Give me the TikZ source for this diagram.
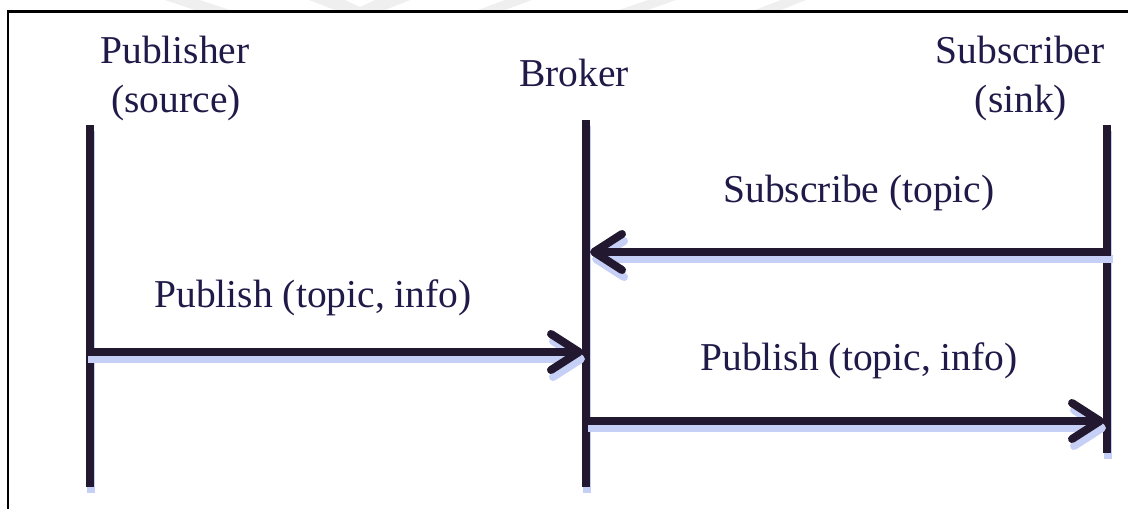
\documentclass[tikz,border=0pt]{standalone}
\usepackage{fontspec}
\setmainfont{Liberation Serif}
\usetikzlibrary{arrows.meta}
\definecolor{ink}{HTML}{221830}
\definecolor{shade}{HTML}{C6D0F6}
\definecolor{txt}{HTML}{201A48}
\definecolor{wmgray}{HTML}{EFEFEF}
\begin{document}
\begin{tikzpicture}[x=1pt,y=-1pt,
  lbl/.style={text=txt, font=\fontsize{39.5}{46}\selectfont, inner sep=0pt, anchor=base},
  lifeline/.style={line width=8pt, draw=ink},
  msg/.style={line width=8pt, draw=ink,
    -{Straight Barb[length=28pt,width=36pt,round]}},
  lifeshadow/.style={lifeline, draw=shade},
  msgshadow/.style={msg, draw=shade},
  frameline/.style={line width=2.5pt, draw=black}
]
\useasboundingbox (0,0) rectangle (1128,509);

% faint background marks along the top edge
\fill[wmgray] (165,0) -- (200,0) -- (230,10) -- (195,10) -- cycle;
\fill[wmgray] (309,0) -- (345,0) -- (360,7) -- (375,0) -- (410,0) -- (385,10) -- (335,10) -- cycle;
\fill[wmgray] (505,0) -- (532,0) -- (505,10) -- (478,10) -- cycle;
\fill[wmgray] (648,0) -- (676,0) -- (648,10) -- (619,10) -- cycle;
\fill[wmgray] (781,0) -- (806,0) -- (781,10) -- (755,10) -- cycle;

% frame
\draw[frameline] (8,509) -- (8,11.5) -- (1128,11.5);

% participants
\node[lbl] (pubname) at (175,63) {Publisher};
\node[lbl] (pubrole) at (176,112) {(source)};
\node[lbl] (broker) at (574,86) {Broker};
\node[lbl] (subname) at (1020,63) {Subscriber};
\node[lbl] (subrole) at (1021,112) {(sink)};

% lifeline end points
\coordinate (pubTop) at (90,125);
\coordinate (pubBot) at (90,487);
\coordinate (brkTop) at (586,120);
\coordinate (brkBot) at (586,487);
\coordinate (subTop) at (1107,125);
\coordinate (subBot) at (1107,453);

% message anchor points on the lifelines
\coordinate (subS) at (1111,252);
\coordinate (brkS) at (590,252);
\coordinate (pubP) at (86,352);
\coordinate (brkP) at (583,352);
\coordinate (brkF) at (586,421);
\coordinate (subF) at (1104,421);

% lifelines with their soft blue drop shadow
\begin{scope}[transform canvas={shift={(0.5pt,-6pt)}}]
  \draw[lifeshadow] (pubTop) -- (pubBot);
  \draw[lifeshadow] (brkTop) -- (brkBot);
  \draw[lifeshadow] (subTop) -- (subBot);
\end{scope}
\draw[lifeline] (pubTop) -- (pubBot);
\draw[lifeline] (brkTop) -- (brkBot);
\draw[lifeline] (subTop) -- (subBot);

% message shadows
\begin{scope}[transform canvas={shift={(2pt,-7pt)}}]
  \draw[msgshadow] (subS) -- (brkS);
  \draw[msgshadow] (pubP) -- (brkP);
  \draw[msgshadow] (brkF) -- (subF);
\end{scope}

% messages
\node[lbl] (subscribe) at (859,202) {Subscribe (topic)};
\draw[msg] (subS) -- (brkS);
\node[lbl] (publish) at (313,307) {Publish (topic, info)};
\draw[msg] (pubP) -- (brkP);
\node[lbl] (forward) at (859,370) {Publish (topic, info)};
\draw[msg] (brkF) -- (subF);
\end{tikzpicture}
\end{document}
